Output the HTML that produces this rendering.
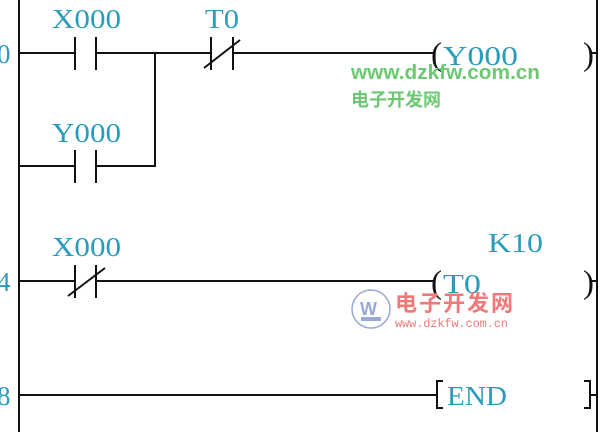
<!DOCTYPE html>
<html><head><meta charset="utf-8"><style>
html,body{margin:0;padding:0;background:#fff;width:606px;height:432px;overflow:hidden}
text{font-family:"Liberation Serif",serif}
</style></head><body>
<svg width="606" height="432" viewBox="0 0 606 432" xmlns="http://www.w3.org/2000/svg">
<g stroke="#111" stroke-width="2" fill="none">
<line x1="19" y1="0" x2="19" y2="432"/>
<line x1="597" y1="0" x2="597" y2="432"/>
<line x1="19" y1="53" x2="75" y2="53"/>
<line x1="75" y1="37" x2="75" y2="70"/><line x1="96" y1="37" x2="96" y2="70"/>
<line x1="96" y1="53" x2="211" y2="53"/>
<line x1="211" y1="37" x2="211" y2="70"/><line x1="233" y1="37" x2="233" y2="70"/>
<line x1="204" y1="68" x2="240" y2="40"/>
<line x1="233" y1="53" x2="433" y2="53"/>
<line x1="590" y1="53" x2="597" y2="53"/>
<line x1="19" y1="166" x2="75" y2="166"/>
<line x1="75" y1="150" x2="75" y2="183"/><line x1="96" y1="150" x2="96" y2="183"/>
<line x1="96" y1="166" x2="155" y2="166"/>
<line x1="155" y1="53" x2="155" y2="167"/>
<line x1="19" y1="281" x2="75" y2="281"/>
<line x1="75" y1="265" x2="75" y2="298"/><line x1="96" y1="265" x2="96" y2="298"/>
<line x1="68" y1="296" x2="105" y2="268"/>
<line x1="96" y1="281" x2="433" y2="281"/>
<line x1="590" y1="281" x2="597" y2="281"/>
<line x1="19" y1="395" x2="436" y2="395"/>
<line x1="590" y1="395" x2="597" y2="395"/>
<polyline points="443,381 437,381 437,408 443,408" stroke-width="2"/>
<polyline points="584,381 590,381 590,408 584,408" stroke-width="2"/>
</g>
<g fill="#2a9cbc" font-size="27">
<text x="-3" y="63">0</text>
<text x="-3" y="291">4</text>
<text x="-3" y="405">8</text>
<text x="52" y="28" textLength="69" lengthAdjust="spacingAndGlyphs">X000</text>
<text x="205" y="28" textLength="34" lengthAdjust="spacingAndGlyphs">T0</text>
<text x="52" y="142" textLength="69" lengthAdjust="spacingAndGlyphs">Y000</text>
<text x="52" y="256" textLength="69" lengthAdjust="spacingAndGlyphs">X000</text>
<text x="488" y="252" textLength="55" lengthAdjust="spacingAndGlyphs">K10</text>
<text x="443" y="65" textLength="75" lengthAdjust="spacingAndGlyphs">Y000</text>
<text x="443" y="293" textLength="38" lengthAdjust="spacingAndGlyphs">T0</text>
<text x="447" y="405" textLength="60" lengthAdjust="spacingAndGlyphs">END</text>
</g>
<g fill="#111" font-size="33">
<text x="431" y="65">(</text><text x="583" y="65">)</text>
<text x="431" y="293">(</text><text x="583" y="293">)</text>
</g>
<text x="351" y="79" font-weight="bold" font-size="20" fill="#6cc872" textLength="189" lengthAdjust="spacingAndGlyphs" style="font-family:'Liberation Sans',sans-serif">www.dzkfw.com.cn</text>
<text x="351" y="106" font-size="18" font-weight="bold" fill="#6cc872" style="font-family:'Liberation Sans','Noto Sans CJK SC',sans-serif">电子开发网</text>
<circle cx="371" cy="309" r="19" fill="none" stroke="#9aa8d6" stroke-width="1.5"/>
<text x="360" y="315" font-size="18" fill="#9aa8d6" style="font-family:'Liberation Sans',sans-serif" font-weight="bold">W</text>
<rect x="361" y="317" width="20" height="4" fill="#9aa8d6"/>
<text x="395" y="311" font-size="22" fill="#f07a7a" letter-spacing="2" font-weight="bold" style="font-family:'Liberation Sans','Noto Sans CJK SC',sans-serif">电子开发网</text>
<text x="395" y="327" font-size="12" fill="#f07a7a" textLength="113" style="font-family:'Liberation Mono',monospace">www.dzkfw.com.cn</text>
</svg>
</body></html>
